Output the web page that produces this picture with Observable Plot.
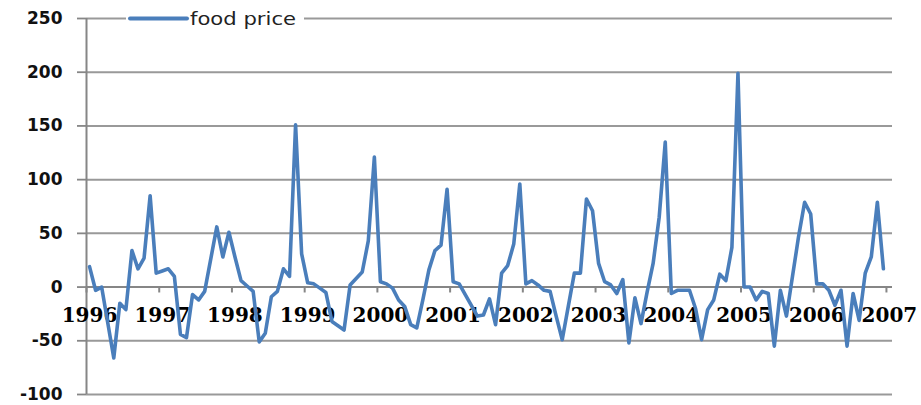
<!DOCTYPE html>
<html>
<head>
<meta charset="utf-8">
<script src="https://cdn.jsdelivr.net/npm/d3@7"></script>
<script src="https://cdn.jsdelivr.net/npm/@observablehq/plot@0.6"></script>
<style>
  html, body { margin: 0; padding: 0; background: #fff; }
  #wrap { position: relative; width: 921px; height: 405px; }
  #legend { position: absolute; left: 126px; top: 8px; background: #fff; }
</style>
</head>
<body>
<div id="wrap">
  <div id="chart"></div>
  <div id="legend"></div>
</div>
<script>
// ---- data ----
const years = [1996, 1997, 1998, 1999, 2000, 2001, 2002, 2003, 2004, 2005, 2006, 2007];
const yTicks = [-100, -50, 0, 50, 100, 150, 200, 250];
const seriesName = "food price";
// monthly values, Jan 1996 .. Dec 2006
const foodPrice = [
  19, -3, 0, -33, -66, -15, -21, 34, 17, 27, 85, 13,        // 1996
  15, 17, 10, -44, -47, -7, -12, -4, 26, 56, 28, 51,       // 1997
  28, 6, 1, -4, -51, -43, -9, -4, 17, 10, 151, 31,         // 1998
  4, 3, -1, -5, -32, -36, -40, 2, 8, 14, 43, 121,          // 1999
  5, 3, -1, -12, -18, -35, -38, -12, 16, 34, 39, 91,       // 2000
  5, 3, -7, -17, -27, -26, -11, -35, 13, 20, 40, 96,       // 2001
  3, 6, 2, -3, -4, -27, -49, -18, 13, 13, 82, 71,          // 2002
  22, 5, 2, -6, 7, -52, -10, -34, -5, 22, 65, 135,         // 2003
  -6, -3, -3, -3, -20, -49, -21, -12, 12, 6, 37, 199,      // 2004
  0, 0, -12, -4, -6, -55, -3, -27, 10, 47, 79, 68,         // 2005
  3, 3, -3, -17, -3, -55, -6, -31, 13, 28, 79, 17          // 2006
];

const table = foodPrice.map((v, i) => ({ month: i + 0.5, value: v }));
const blue = "#4a7ebb";
const axisGray = "#868686";
const gridGray = "#999999";

const chart = Plot.plot({
  width: 921,
  height: 405,
  marginLeft: 86,
  marginRight: 29,
  marginTop: 18,
  marginBottom: 11,
  style: { fontFamily: "DejaVu Sans", background: "#fff", overflow: "visible" },
  x: { domain: [0, 133], axis: null },
  y: { domain: [-100, 250], axis: null },
  marks: [
    Plot.ruleY(yTicks.filter(v => v !== 0), { y: d => d, stroke: gridGray, strokeWidth: 2 }),
    Plot.ruleY([0], { stroke: axisGray, strokeWidth: 2 }),
    Plot.ruleX([0], { stroke: axisGray, strokeWidth: 2 }),
    Plot.axisY(yTicks, {
      label: null,
      tickSize: 9, tickPadding: 15, stroke: axisGray, strokeWidth: 1.8,
      fontSize: 17, fontWeight: "bold", fill: "#111", tickFormat: d => String(d)
    }),
    Plot.ruleX(years, { x: d => (d - 1996) * 12, y1: 0, y2: -5.5, stroke: axisGray, strokeWidth: 2 }),
    Plot.text(years, {
      x: d => (d - 1996) * 12, y: 0, dy: 29, dx: 3, text: d => String(d),
      fontFamily: "DejaVu Serif", fontSize: 20, fontWeight: "bold", fill: "#000"
    }),
    Plot.lineY(table, {
      x: "month", y: "value", stroke: blue, strokeWidth: 3.6,
      strokeLinejoin: "round", strokeLinecap: "round"
    })
  ]
});
document.getElementById("chart").appendChild(chart);

// legend
const lg = d3.select("#legend").append("svg").attr("width", 178).attr("height", 24);
lg.append("line").attr("x1", 4).attr("x2", 61).attr("y1", 10.5).attr("y2", 10.5)
  .attr("stroke", blue).attr("stroke-width", 4).attr("stroke-linecap", "round");
lg.append("text").attr("x", 64).attr("y", 16.5).text(seriesName)
  .attr("font-family", "DejaVu Sans").attr("font-size", 17).attr("fill", "#222")
  .attr("textLength", 106).attr("lengthAdjust", "spacingAndGlyphs");
</script>
</body>
</html>
